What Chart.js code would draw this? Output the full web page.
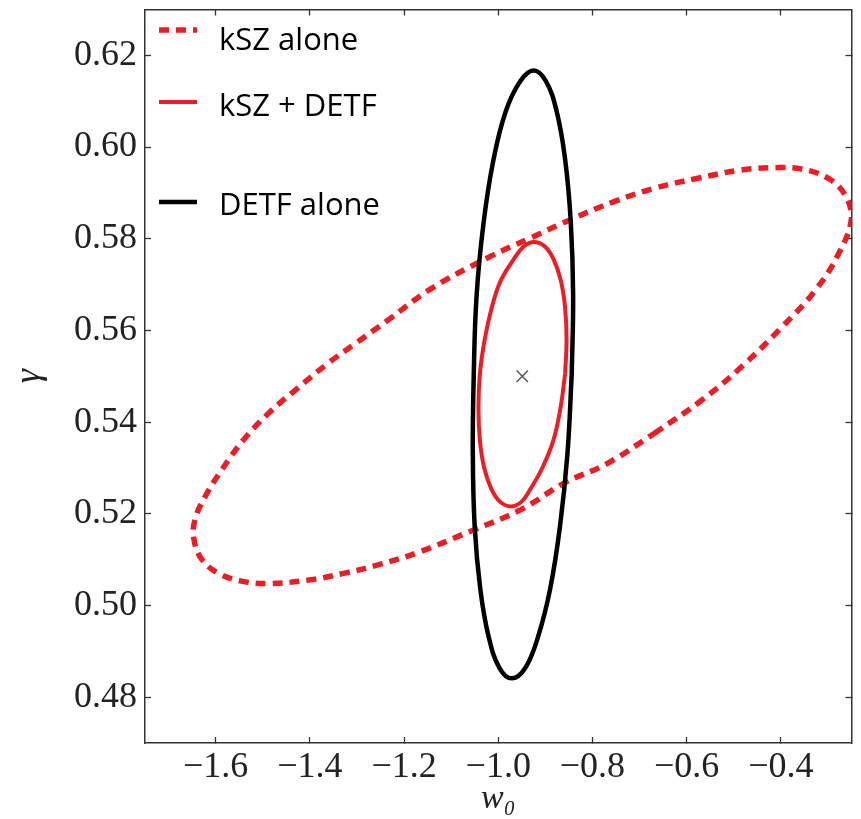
<!DOCTYPE html>
<html>
<head>
<meta charset="utf-8">
<script src="https://cdn.jsdelivr.net/npm/chart.js@4.4.1/dist/chart.umd.min.js"></script>
<style>
  html, body { margin: 0; padding: 0; background: #fff; }
  canvas { display: block; }
</style>
</head>
<body>
<canvas id="forecast-chart" width="861" height="819"></canvas>
<script>
// Tick positions and labels
var xTickValues = [-1.6, -1.4, -1.2, -1.0, -0.8, -0.6, -0.4];
var xTickLabels = ['\u22121.6', '\u22121.4', '\u22121.2', '\u22121.0', '\u22120.8', '\u22120.6', '\u22120.4'];
var yTickValues = [0.48, 0.50, 0.52, 0.54, 0.56, 0.58, 0.60, 0.62];
var yTickLabels = ['0.48', '0.50', '0.52', '0.54', '0.56', '0.58', '0.60', '0.62'];

// DETF alone (black contour), starting at the right-hand side
var detfW = [-0.844, -0.853, -0.869, -0.890, -0.916, -0.943, -0.971, -0.997, -1.020, -1.038,
             -1.050, -1.054, -1.052, -1.046, -1.031, -1.010, -0.984, -0.953, -0.925, -0.899,
             -0.876, -0.858, -0.846, -0.841, -0.844];
var detfG = [0.5504, 0.5332, 0.5172, 0.5035, 0.4930, 0.4863, 0.4841, 0.4863, 0.4930, 0.5035,
             0.5172, 0.5332, 0.5504, 0.5676, 0.5836, 0.5973, 0.6078, 0.6144, 0.6167, 0.6144,
             0.6078, 0.5973, 0.5836, 0.5676, 0.5504];

// kSZ + DETF (red solid contour)
var comboW = [-0.858, -0.868, -0.883, -0.906, -0.931, -0.951, -0.973, -0.996, -1.015, -1.030,
              -1.039, -1.042, -1.039, -1.029, -1.014, -0.995, -0.968, -0.946, -0.924, -0.901,
              -0.882, -0.867, -0.858, -0.855, -0.858];
var comboG = [0.5505, 0.5430, 0.5360, 0.5301, 0.5255, 0.5226, 0.5216, 0.5226, 0.5255, 0.5301,
              0.5360, 0.5430, 0.5505, 0.5579, 0.5649, 0.5708, 0.5754, 0.5783, 0.5793, 0.5783,
              0.5754, 0.5708, 0.5649, 0.5579, 0.5505];

// kSZ alone (red dashed contour)
var kszW = [-0.669, -0.569, -0.484, -0.399, -0.328, -0.278, -0.250, -0.264, -0.300, -0.356,
            -0.413, -0.484, -0.576, -0.669, -0.754, -0.839, -0.931, -1.023, -1.144, -1.236,
            -1.300, -1.363, -1.427, -1.488, -1.541, -1.587, -1.622, -1.644, -1.646, -1.629,
            -1.590, -1.534, -1.484, -1.406, -1.328, -1.250, -1.172, -1.059, -0.952, -0.860,
            -0.768, -0.669];
var kszG = [0.5375, 0.5447, 0.5520, 0.5606, 0.5686, 0.5766, 0.5845, 0.5896, 0.5932, 0.5952,
            0.5955, 0.5950, 0.5932, 0.5910, 0.5881, 0.5845, 0.5802, 0.5758, 0.5690, 0.5621,
            0.5574, 0.5527, 0.5473, 0.5419, 0.5361, 0.5296, 0.5238, 0.5187, 0.5144, 0.5100,
            0.5068, 0.5051, 0.5048, 0.5055, 0.5070, 0.5090, 0.5115, 0.5162, 0.5209, 0.5267,
            0.5310, 0.5375];

// fiducial point
var fiducialW = [-0.949];
var fiducialG = [0.550];

var red = '#ee1d25';

function toPoints(xs, ys) {
    return xs.map(function(x, i) { return { x: x, y: ys[i] }; });
}

function fixedTicks(values) {
    return function(scale) {
        scale.ticks = values.map(function(v) { return { value: v }; });
    };
}

// pin each axis box so the plot frame lands where the original one is
function pinSize(prop, size) {
    return function(s) {
        s[prop] = size;
        s.paddingTop = 0;
        s.paddingBottom = 0;
        s.paddingLeft = 0;
        s.paddingRight = 0;
    };
}

// Legend sits inside the axes with uneven spacing, so draw it by hand
var insideLegend = {
    id: 'insideLegend',
    afterDraw: function(chart) {
        var ctx = chart.ctx;
        var items = [
            { text: 'kSZ alone', color: red, width: 5.5, dash: [10, 7], lineY: 30, textY: 50 },
            { text: 'kSZ + DETF', color: red, width: 4, dash: [], lineY: 102, textY: 116 },
            { text: 'DETF alone', color: '#000', width: 4.5, dash: [], lineY: 202, textY: 215 }
        ];
        ctx.save();
        items.forEach(function(item) {
            ctx.beginPath();
            ctx.setLineDash(item.dash);
            ctx.lineWidth = item.width;
            ctx.strokeStyle = item.color;
            ctx.moveTo(159, item.lineY);
            ctx.lineTo(197, item.lineY);
            ctx.stroke();
            ctx.setLineDash([]);
            ctx.fillStyle = '#000';
            ctx.font = '31px "Open Sans"';
            ctx.textBaseline = 'alphabetic';
            ctx.textAlign = 'left';
            ctx.fillText(item.text, 219, item.textY);
        });
        ctx.restore();
    }
};

var tickFont = { family: 'Liberation Serif', size: 36 };
var frame = '#333';

var ctx = document.getElementById('forecast-chart').getContext('2d');
var chart = new Chart(ctx, {
    type: 'scatter',
    data: {
        datasets: [
            {
                label: 'DETF alone',
                data: toPoints(detfW, detfG),
                showLine: true,
                borderColor: '#000',
                borderWidth: 4.5,
                pointRadius: 0,
                tension: 0.4,
                fill: false
            },
            {
                label: 'kSZ + DETF',
                data: toPoints(comboW, comboG),
                showLine: true,
                borderColor: red,
                borderWidth: 4,
                pointRadius: 0,
                tension: 0.4,
                fill: false
            },
            {
                label: 'kSZ alone',
                data: toPoints(kszW, kszG),
                showLine: true,
                borderColor: red,
                borderWidth: 5.5,
                borderDash: [10, 7],
                pointRadius: 0,
                tension: 0.4,
                fill: false
            },
            {
                label: 'fiducial',
                data: toPoints(fiducialW, fiducialG),
                showLine: false,
                pointStyle: 'crossRot',
                pointRadius: 8,
                borderWidth: 1.5,
                borderColor: '#555',
                backgroundColor: '#555'
            }
        ]
    },
    options: {
        responsive: false,
        animation: false,
        events: [],
        layout: { padding: 0 },
        scales: {
            x: {
                type: 'linear',
                position: 'bottom',
                min: -1.75,
                max: -0.25,
                afterBuildTicks: fixedTicks(xTickValues),
                afterFit: pinSize('height', 76),
                grid: { drawOnChartArea: false, drawTicks: true, tickLength: -6, tickWidth: 1.3, tickColor: frame },
                border: { display: true, color: frame, width: 1.5 },
                ticks: {
                    font: tickFont,
                    color: '#222',
                    padding: 9,
                    maxRotation: 0,
                    autoSkip: false,
                    callback: function(value, index) { return xTickLabels[index]; }
                },
                title: {
                    display: true,
                    text: 'w\u2080',
                    color: '#222',
                    font: { family: 'Liberation Serif', size: 34, style: 'italic' },
                    padding: { top: 0, bottom: 0 }
                }
            },
            x2: {
                type: 'linear',
                axis: 'x',
                position: 'top',
                min: -1.75,
                max: -0.25,
                afterBuildTicks: fixedTicks(xTickValues),
                afterFit: pinSize('height', 7),
                grid: { drawOnChartArea: false, drawTicks: true, tickLength: -6, tickWidth: 1.3, tickColor: frame },
                border: { display: true, color: frame, width: 1.5 },
                ticks: { display: false }
            },
            y: {
                type: 'linear',
                position: 'left',
                min: 0.47,
                max: 0.63,
                afterBuildTicks: fixedTicks(yTickValues),
                afterFit: pinSize('width', 145),
                grid: { drawOnChartArea: false, drawTicks: true, tickLength: -6, tickWidth: 1.3, tickColor: frame },
                border: { display: true, color: frame, width: 1.5 },
                ticks: {
                    font: tickFont,
                    color: '#222',
                    padding: 14,
                    autoSkip: false,
                    callback: function(value, index) { return yTickLabels[index]; }
                },
                title: {
                    display: true,
                    text: '\u03b3',
                    color: '#222',
                    font: { family: 'Liberation Serif', size: 36, style: 'italic' },
                    padding: { top: 8, bottom: 0 }
                }
            },
            y2: {
                type: 'linear',
                axis: 'y',
                position: 'right',
                min: 0.47,
                max: 0.63,
                afterBuildTicks: fixedTicks(yTickValues),
                afterFit: pinSize('width', 8),
                grid: { drawOnChartArea: false, drawTicks: true, tickLength: -6, tickWidth: 1.3, tickColor: frame },
                border: { display: true, color: frame, width: 1.5 },
                ticks: { display: false }
            }
        },
        plugins: {
            legend: { display: false },
            tooltip: { enabled: false }
        }
    },
    plugins: [insideLegend]
});
</script>
</body>
</html>
